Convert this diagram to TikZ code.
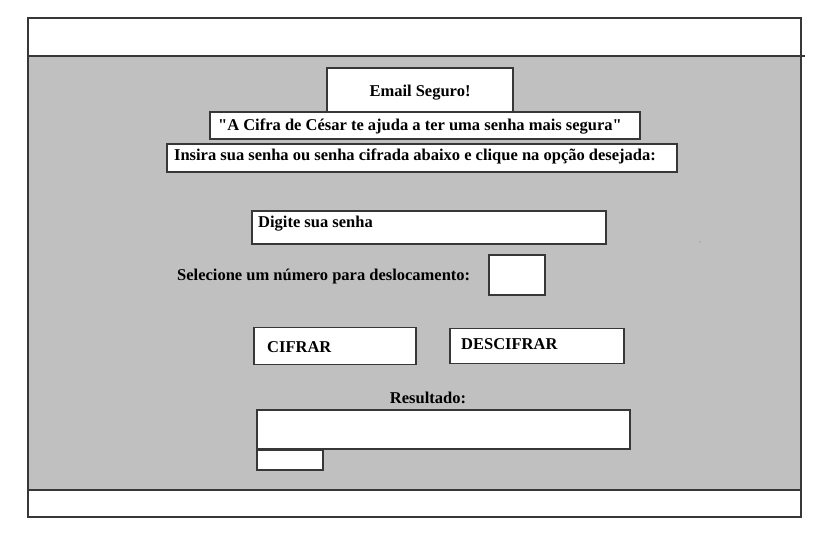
\documentclass[tikz,border=0pt]{standalone}
\usepackage{fontspec}
\setmainfont{Liberation Serif}
\font\qfont="Liberation Serif/B" at 16.5pt
\newcommand{\sq}{{\qfont\char34}}
\definecolor{panel}{RGB}{192,192,192}
\definecolor{edge}{RGB}{55,55,55}
\begin{document}
\begin{tikzpicture}[x=1pt,y=-1pt,
  box/.style={draw=edge, line width=1.1pt, fill=white, inner sep=0pt},
  lbl/.style={font=\bfseries\fontsize{16.5}{18}\selectfont, inner sep=0pt, text=black}]
\useasboundingbox (0,0) rectangle (828,539);
\fill[white] (0,0) rectangle (828,539);
\fill[panel] (28,56) rectangle (801,490);
\draw[edge, line width=1.1pt] (28,18) rectangle (801,517);
\coordinate (hl) at (28,56);
\coordinate (hr) at (805,56);
\coordinate (fl) at (28,490);
\coordinate (fr) at (801,490);
\draw[edge, line width=1.1pt] (hl) -- (hr);
\draw[edge, line width=1.1pt] (fl) -- (fr);
% boxes
\node[box, minimum width=186pt, minimum height=44pt] (email) at (420,90) {};
\node[box, minimum width=430pt, minimum height=27pt] (quote) at (425,125.5) {};
\node[box, minimum width=510pt, minimum height=28pt] (insira) at (422,158) {};
\node[box, minimum width=354pt, minimum height=33pt] (digite) at (429,227.5) {};
\node[box, minimum width=56pt, minimum height=40pt] (shift) at (517,275) {};
\node[box, minimum width=162pt, minimum height=37pt] (cifrar) at (335,346) {};
\node[box, minimum width=174pt, minimum height=35pt] (descifrar) at (537,346) {};
\node[box, minimum width=373pt, minimum height=39pt] (result) at (443.5,429.5) {};
\node[box, minimum width=66pt, minimum height=20pt] (small) at (290,460) {};
% texts
\node[lbl] (t1) at (420,93) {Email Seguro!};
\node[lbl] (t2) at (420,127) {\sq A Cifra de César te ajuda a ter uma senha mais segura\sq};
\node[lbl] (t3) at (415,156) {Insira sua senha ou senha cifrada abaixo e clique na opção desejada:};
\node[lbl, anchor=west] (t4) at (258,224) {Digite sua senha};
\node[lbl, anchor=west] (t5) at (177,277) {Selecione um número para deslocamento:};
\node[lbl, anchor=west] (t6) at (267,347) {CIFRAR};
\node[lbl, anchor=west] (t7) at (461,344) {DESCIFRAR};
\node[lbl] (t8) at (428,398) {Resultado:};
\fill[gray] (700,242) circle (0.6);
\end{tikzpicture}
\end{document}
